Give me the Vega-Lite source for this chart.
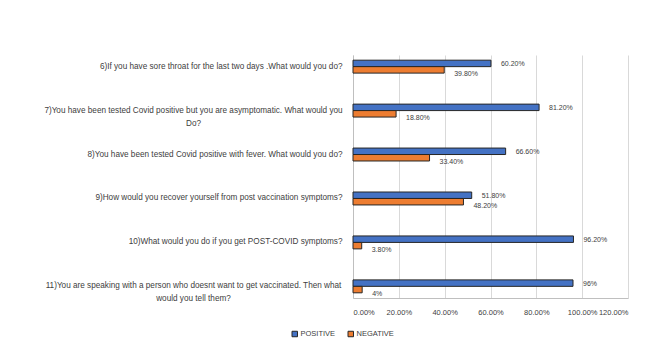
{
  "$schema": "https://vega.github.io/schema/vega-lite/v6.json",
  "width": 275,
  "height": 243,
  "autosize": {"type": "none"},
  "padding": {"left": 353, "top": 55, "right": 35, "bottom": 51},
  "background": "white",
  "config": {"view": {"stroke": null}, "font": "Liberation Sans"},
  "data": {"values": [
    {"question": "6)If you have sore throat for the last two days .What would you do?", "series": "POSITIVE", "value": 0.602, "label": "60.20%"},
    {"question": "6)If you have sore throat for the last two days .What would you do?", "series": "NEGATIVE", "value": 0.398, "label": "39.80%"},
    {"question": "7)You have been tested Covid positive but you are asymptomatic. What would you\nDo?", "series": "POSITIVE", "value": 0.812, "label": "81.20%"},
    {"question": "7)You have been tested Covid positive but you are asymptomatic. What would you\nDo?", "series": "NEGATIVE", "value": 0.188, "label": "18.80%"},
    {"question": "8)You have been tested Covid positive with fever. What would you do?", "series": "POSITIVE", "value": 0.666, "label": "66.60%"},
    {"question": "8)You have been tested Covid positive with fever. What would you do?", "series": "NEGATIVE", "value": 0.334, "label": "33.40%"},
    {"question": "9)How would you recover yourself from post vaccination symptoms?", "series": "POSITIVE", "value": 0.518, "label": "51.80%"},
    {"question": "9)How would you recover yourself from post vaccination symptoms?", "series": "NEGATIVE", "value": 0.482, "label": "48.20%"},
    {"question": "10)What would you do if you get POST-COVID symptoms?", "series": "POSITIVE", "value": 0.962, "label": "96.20%"},
    {"question": "10)What would you do if you get POST-COVID symptoms?", "series": "NEGATIVE", "value": 0.038, "label": "3.80%"},
    {"question": "11)You are speaking with a person who doesnt want to get vaccinated. Then what\nwould you tell them?", "series": "POSITIVE", "value": 0.96, "label": "96%"},
    {"question": "11)You are speaking with a person who doesnt want to get vaccinated. Then what\nwould you tell them?", "series": "NEGATIVE", "value": 0.04, "label": "4%"}
  ]},
  "encoding": {
    "yOffset": {
      "field": "series", "type": "nominal", "sort": ["POSITIVE", "NEGATIVE"],
      "scale": {"paddingOuter": 0.8, "paddingInner": 0}
    },
    "x": {
      "field": "value", "type": "quantitative",
      "scale": {"domain": [0, 1.2], "nice": false},
      "axis": {
        "title": null, "format": ".2%", "values": [0, 0.2, 0.4, 0.6, 0.8, 1.0, 1.2],
        "grid": true, "gridColor": "#d9d9d9", "ticks": false, "domainColor": "#bfbfbf",
        "labelFontSize": 7.5, "labelColor": "#404040", "labelPadding": 10
      }
    }
  },
  "layer": [
    {
      "mark": {"type": "bar", "stroke": "#262626", "strokeWidth": 1},
      "encoding": {
        "y": {
          "field": "question", "type": "nominal", "sort": null,
          "scale": {"paddingInner": 0.47, "paddingOuter": 0},
          "axis": {
            "title": null, "ticks": false, "domainColor": "#bfbfbf", "grid": false,
            "labelFontSize": 8.2, "labelColor": "#404040", "labelPadding": 11, "labelLimit": 500,
            "labelAlign": "right",
            "labelExpr": "indexof(datum.value, '\\n') >= 0 ? '' : datum.label"
          }
        },
        "color": {
          "field": "series", "type": "nominal",
          "scale": {"domain": ["POSITIVE", "NEGATIVE"], "range": ["#4472C4", "#ED7D31"]},
          "legend": {
            "orient": "none", "legendX": -62, "legendY": 275, "direction": "horizontal",
            "title": null, "symbolType": "square", "symbolSize": 30,
            "symbolStrokeColor": "#262626", "symbolStrokeWidth": 1,
            "labelFontSize": 7.5, "labelColor": "#404040", "columnPadding": 10,
            "labelOffset": 2, "padding": 0
          }
        }
      }
    },
    {
      "transform": [{"filter": "datum.series === 'POSITIVE'"}],
      "mark": {"type": "text", "align": "left", "baseline": "middle", "dx": 10, "dy": 1, "fontSize": 7, "color": "#404040"},
      "encoding": {
        "y": {
          "field": "question", "type": "nominal", "sort": null,
          "axis": {
            "orient": "left", "title": null, "ticks": false, "domain": false, "grid": false,
            "labelFontSize": 8.2, "labelColor": "#404040", "labelPadding": 160, "labelLimit": 500,
            "labelLineHeight": 13, "labelAlign": "center",
            "labelExpr": "indexof(datum.value, '\\n') >= 0 ? split(datum.label, '\\n') : ''"
          }
        },
        "text": {"field": "label"}
      }
    },
    {
      "transform": [{"filter": "datum.series === 'NEGATIVE'"}],
      "mark": {"type": "text", "align": "left", "baseline": "middle", "dx": 10, "dy": 4, "fontSize": 7, "color": "#404040"},
      "encoding": {
        "y": {"field": "question", "type": "nominal", "sort": null, "axis": null},
        "text": {"field": "label"}
      }
    }
  ],
  "resolve": {"axis": {"y": "independent"}}
}
